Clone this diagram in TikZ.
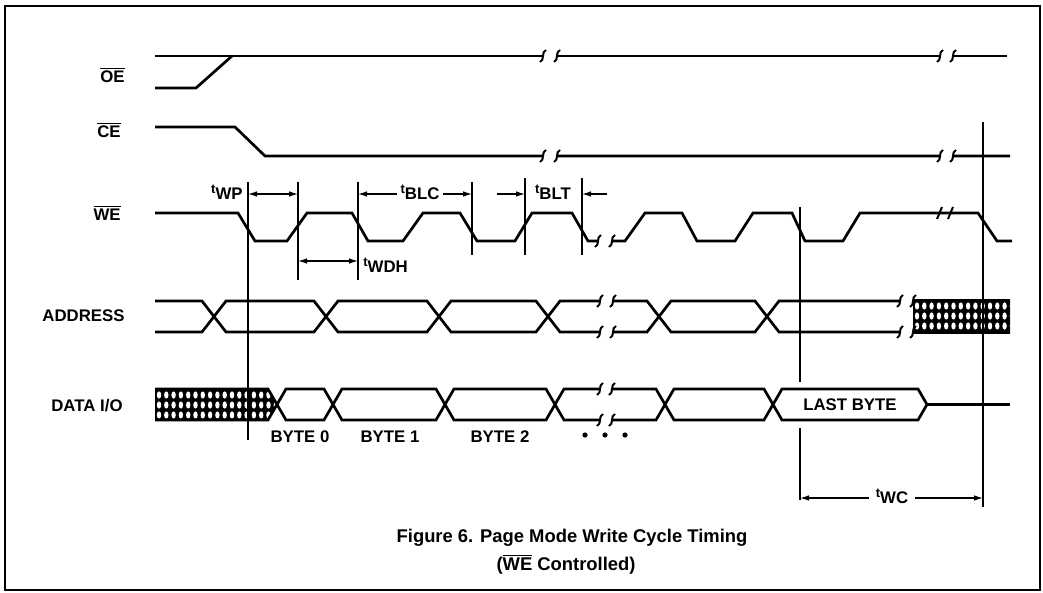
\documentclass[tikz,border=0pt]{standalone}
\usepackage{fontspec}
\setmainfont{Liberation Sans}
\usetikzlibrary{arrows.meta}
\tikzstyle{wave} = [line width=1.35pt, line join=miter]
\tikzstyle{marker} = [line width=0.65pt]
\tikzstyle{dim} = [line width=0.65pt, -{Latex[length=4.5pt, width=2.8pt]}]
\tikzstyle{dimboth} = [line width=0.65pt, {Latex[length=4.5pt, width=2.8pt]}-{Latex[length=4.5pt, width=2.8pt]}]
\tikzstyle{lbl} = [font=\bfseries\fontsize{8.4}{10}\selectfont, inner sep=0pt]
\tikzstyle{siglbl} = [lbl, anchor=east]
\tikzstyle{caption} = [font=\bfseries\fontsize{9.2}{11}\selectfont, inner sep=0pt]
\newcommand{\ovl}[1]{$\overline{\mbox{#1}}$}
\newcommand{\tlab}[1]{\raisebox{0.7ex}{\fontsize{6.5}{7}\selectfont t}#1}
\newcommand{\brk}[2]{\draw[line width=1pt] (#1+3,#2-6) .. controls (#1-2,#2-4) and (#1+2,#2+4) .. (#1-3,#2+6);}

\begin{document}
\begin{tikzpicture}[x=0.5pt, y=-0.5pt]
    \useasboundingbox (0,0) rectangle (1043,593);
    \draw[line width=0.9pt] (5,6) rectangle (1040,590);

    % Signal names
    \node[siglbl] (oe) at (125,75) {\ovl{OE}};
    \node[siglbl] (ce) at (121,130) {\ovl{CE}};
    \node[siglbl] (we) at (121,213) {\ovl{WE}};
    \node[siglbl] (addr) at (125,316) {ADDRESS};
    \node[siglbl] (data) at (123,406) {DATA I/O};

    % Hatched (don't care) regions
    \begin{scope}
        \clip (155,389) -- (268,389) -- (277,404.5) -- (268,420) -- (155,420) -- cycle;
        \fill (150,385) rectangle (285,425);
        \foreach \i in {0,...,16}
            \foreach \j in {0,1,2}
                \fill[white] (159+\i*7.3,395+\j*10) ellipse (2.2 and 3.6);
    \end{scope}
    \begin{scope}
        \clip (913,300) rectangle (1010,333);
        \fill (910,298) rectangle (1012,335);
        \foreach \i in {0,...,13}
            \foreach \j in {0,1,2}
                \fill[white] (917+\i*7.3,306+\j*10) ellipse (2.2 and 3.6);
    \end{scope}
    \draw[wave] (913,300) -- (1010,300) (913,333) -- (1010,333);

    % OE
    \draw[wave] (155,56) -- (543,56) (557,56) -- (940,56) (953,56) -- (1007,56);
    \draw[wave] (155,88) -- (196,88) -- (232,56);
    \brk{543}{56} \brk{557}{56} \brk{940}{56} \brk{953}{56}

    % CE
    \draw[wave] (155,127) -- (235,127) -- (265,156) -- (543,156) (557,156) -- (940,156) (953,156) -- (1010,156);
    \brk{543}{156} \brk{557}{156} \brk{940}{156} \brk{953}{156}

    % WE
    \draw[wave] (155,213) -- (238,213) -- (255,241) -- (287,241) -- (307,213) -- (352,213)
        -- (368,241) -- (403,241) -- (423,213) -- (460,213) -- (477,241) -- (515,241)
        -- (532,213) -- (572,213) -- (588,241) -- (598,241);
    \draw[wave] (612,241) -- (625,241) -- (645,213) -- (682,213) -- (697,241) -- (735,241)
        -- (753,213) -- (792,213) -- (805,241) -- (843,241) -- (860,213) -- (978,213)
        -- (997,241) -- (1012,241);
    \brk{598}{241} \brk{612}{241}
    \draw[line width=1pt] (937,219) -- (942,207) (948,219) -- (953,207);

    % ADDRESS
    \draw[wave] (155,301) -- (202,301) -- (226,332) -- (314,332) -- (338,301) -- (427,301)
        -- (451,332) -- (536,332) -- (560,301) -- (600,301);
    \draw[wave] (155,332) -- (202,332) -- (226,301) -- (314,301) -- (338,332) -- (427,332)
        -- (451,301) -- (536,301) -- (560,332) -- (600,332);
    \draw[wave] (613,301) -- (647,301) -- (671,332) -- (755,332) -- (779,301) -- (900,301);
    \draw[wave] (613,332) -- (647,332) -- (671,301) -- (755,301) -- (779,332) -- (900,332);
    \brk{600}{301} \brk{613}{301} \brk{600}{332} \brk{613}{332}
    \brk{900}{301} \brk{913}{301} \brk{900}{332} \brk{913}{332}

    % DATA I/O
    \draw[wave] (155,389) -- (268,389) -- (277,404.5) -- (268,420) -- (155,420);
    \draw[wave] (277,404.5) -- (286,389) -- (324,389) -- (342,420) -- (436,420) -- (454,389)
        -- (546,389) -- (564,420) -- (600,420);
    \draw[wave] (277,404.5) -- (286,420) -- (324,420) -- (342,389) -- (436,389) -- (454,420)
        -- (546,420) -- (564,389) -- (600,389);
    \draw[wave] (612,389) -- (656,389) -- (674,420) -- (764,420) -- (782,389) -- (918,389)
        -- (927,404.5) -- (918,420) -- (782,420) -- (764,389) -- (674,389) -- (656,420) -- (612,420);
    \draw[wave] (927,404.5) -- (1010,404.5);
    \brk{600}{389} \brk{612}{389} \brk{600}{420} \brk{612}{420}
    \node[lbl] (last) at (850,405) {LAST BYTE};
    \node[lbl] (b0) at (300,437) {BYTE 0};
    \node[lbl] (b1) at (390,437) {BYTE 1};
    \node[lbl] (b2) at (500,437) {BYTE 2};
    \foreach \x in {585,605,625}
        \fill (\x,435) circle (2.6);

    % Timing reference lines
    \coordinate (m1) at (248,182);
    \coordinate (m2) at (298,182);
    \coordinate (m3) at (358,182);
    \coordinate (m4) at (472,182);
    \coordinate (m5) at (525,178);
    \coordinate (m6) at (582,178);
    \coordinate (m7) at (800,207);
    \coordinate (m8) at (983,122);
    \draw[marker] (m1) -- ++(0,258);
    \draw[marker] (m2) -- ++(0,98);
    \draw[marker] (m3) -- ++(0,98);
    \draw[marker] (m4) -- ++(0,73);
    \draw[marker] (m5) -- ++(0,77);
    \draw[marker] (m6) -- ++(0,77);
    \draw[marker] (m7) -- (800,382) (800,428) -- (800,500);
    \draw[marker] (m8) -- (983,507);

    % Timing parameters
    \node[lbl, anchor=east] (twp) at (243,192) {\tlab{WP}};
    \draw[dimboth] (248,194) -- (298,194);

    \node[lbl] (tblc) at (420,192) {\tlab{BLC}};
    \draw[dim] (tblc.west) ++(-3,2) -- (358,194);
    \draw[dim] (tblc.east) ++(3,2) -- (472,194);

    \node[lbl] (tblt) at (553,192) {\tlab{BLT}};
    \draw[dim] (497,194) -- (525,194);
    \draw[dim] (607,194) -- (582,194);

    \node[lbl, anchor=west] (twdh) at (363,265) {\tlab{WDH}};
    \draw[dimboth] (298,261) -- (358,261);

    \node[lbl] (twc) at (892,496) {\tlab{WC}};
    \draw[dim] (twc.west) ++(-6,2) -- (800,498);
    \draw[dim] (twc.east) ++(6,2) -- (983,498);

    % Caption
    \node[caption] (cap1) at (572,538) {Figure 6. Page Mode Write Cycle Timing};
    \node[caption] (cap2) at (566,564) {(\ovl{WE} Controlled)};
\end{tikzpicture}
\end{document}
